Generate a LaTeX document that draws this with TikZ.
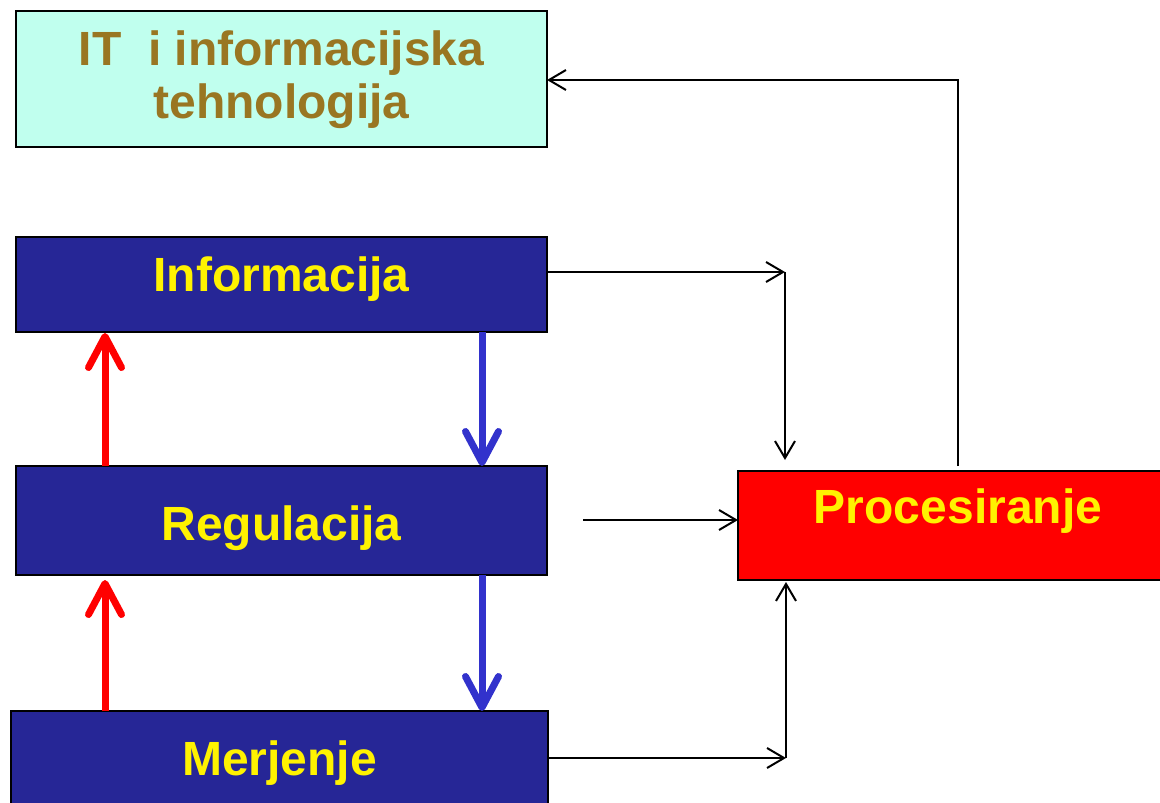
\documentclass[tikz,border=0pt]{standalone}
\usepackage{fontspec}
\setmainfont{Liberation Sans}
\usetikzlibrary{arrows.meta}
\definecolor{itfill}{RGB}{192,255,238}
\definecolor{ittext}{RGB}{153,118,34}
\definecolor{navy}{RGB}{38,38,150}
\definecolor{bluearr}{RGB}{50,50,204}
\tikzset{
  bigfont/.style={font=\fontsize{48}{53}\selectfont\bfseries},
  box/.style={draw=black, line width=2pt, minimum width=531pt, inner sep=0pt, outer sep=0pt, bigfont},
  bluebox/.style={box, fill=navy, text=yellow},
  conn/.style={draw=black, line width=2pt, -{Straight Barb[length=17pt,width=20pt]}},
  thick arr/.style={line width=7pt, -{Straight Barb[length=31pt,width=33pt,round]}, line cap=butt}
}
\begin{document}
\begin{tikzpicture}[x=1pt,y=-1pt]
\useasboundingbox (0,0) rectangle (1160,803);
\begin{scope}
\clip (0,0) rectangle (1160,803);
\node[box, fill=itfill, minimum height=136pt,
  label={[bigfont, align=center, text=ittext, yshift=-0.5pt]center:IT~ i informacijska\\tehnologija}] (it) at (281.5,79) {};
\node[bluebox, minimum height=95pt, text height=24.4pt, text depth=10pt] (info) at (281.5,284.5) {Informacija};
\node[bluebox, minimum height=109pt, text height=49pt, text depth=10pt] (reg) at (281.5,520.5) {Regulacija};
\node[bluebox, minimum height=110pt, minimum width=537pt, text height=28pt, text depth=10pt] (merj) at (279.5,766) {Merjenje};
\node[box, fill=red, text=yellow, minimum width=440pt, minimum height=109pt, text height=5.6pt, text depth=10pt] (proc) at (958,525.5) {Procesiranje};

% coordinates
\coordinate (c1) at (785,272);
\coordinate (r0) at (583,520);
\coordinate (m1) at (786,758);
\coordinate (p1) at (958,80);
\coordinate (xr) at (105,0);
\coordinate (xb) at (482,0);

% black connectors
\draw[conn] ([yshift=5pt]proc.north) -- (p1) -- (p1 -| it.east);
\draw[conn] (info.east |- c1) -- (c1);
\draw[conn] (c1) -- ([yshift=11pt]c1 |- proc.north);
\draw[conn] (r0) -- (r0 -| proc.west);
\draw[conn] (merj.east |- m1) -- (m1);
\draw[conn] (m1) -- ([yshift=-2pt]m1 |- proc.south);

% red arrows
\draw[thick arr, red] (xr |- reg.north) -- ([yshift=-1pt]xr |- info.south);
\draw[thick arr, red] (xr |- merj.north) -- ([yshift=-5pt]xr |- reg.south);
% blue arrows
\draw[thick arr, bluearr] (xb |- info.south) -- (xb |- reg.north);
\draw[thick arr, bluearr] (xb |- reg.south) -- (xb |- merj.north);
\end{scope}
\end{tikzpicture}
\end{document}
